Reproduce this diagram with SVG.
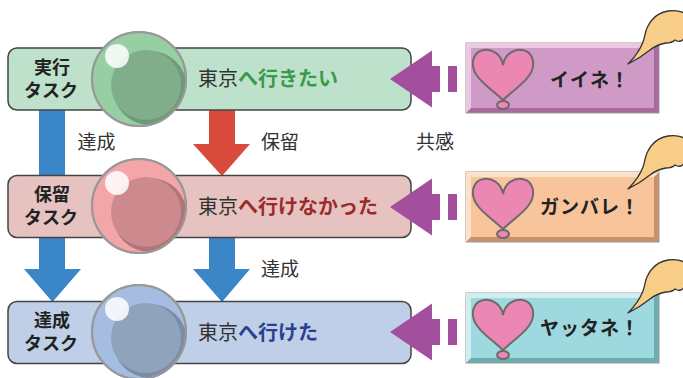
<svg xmlns="http://www.w3.org/2000/svg" width="683" height="378" viewBox="0 0 683 378">
  <style>
    text { font-family: "Noto Sans CJK JP", "Noto Sans", sans-serif; }
    .row { stroke: #444; stroke-width: 1.5; }
    .title { font-size: 18px; font-weight: bold; fill: #222; text-anchor: middle; }
    .main { font-size: 20px; fill: #333; }
    .label { font-size: 19px; fill: #333; text-anchor: middle; }
    .cheer { font-size: 19px; font-weight: bold; fill: #222; letter-spacing: 1px; }
    .orb { stroke: #999; stroke-width: 2; }
    .shine { fill: #fff; opacity: 0.85; }
    .heart { fill: #eb87b2; stroke: #6b6b6b; stroke-width: 2; }
    .purple { fill: #a24f9e; }
    .blue { fill: #3a86c6; }
    .red { fill: #d84a3c; }
  </style>
  <defs>
    <clipPath id="orbClip1"><circle cx="139" cy="79" r="47"/></clipPath>
    <clipPath id="orbClip2"><circle cx="139" cy="206" r="47"/></clipPath>
    <clipPath id="orbClip3"><circle cx="139" cy="332" r="47"/></clipPath>
    <!-- heart with its small drop, drawn around (0,0) = notch -->
    <g id="heartShape">
      <ellipse cx="0" cy="40" rx="6" ry="4" class="heart" stroke-width="1.2"/>
      <path class="heart" d="M0,0 C-2,-12 -12,-16 -19,-15 C-27,-14 -31,-7 -30,1 C-29,13 -13,23 0,35 C13,23 29,13 30,1 C31,-7 27,-14 19,-15 C12,-16 2,-12 0,0 Z"/>
    </g>
  </defs>

  <!-- vertical flow arrows between task rows -->
  <g id="flow-connectors">
    <path class="blue" d="M39,105 H65 V269 H81 L52.5,302 L24,269 H39 Z"/>
    <path class="red" d="M209,105 H235 V144 H250 L222,176 L193,144 H209 Z"/>
    <path class="blue" d="M209,232 H235 V269 H250 L222,302 L193,269 H209 Z"/>
  </g>

  <g id="labels">
    <text class="label" x="96.5" y="149">達成</text>
    <text class="label" x="280" y="149">保留</text>
    <text class="label" x="435" y="149">共感</text>
    <text class="label" x="280" y="276">達成</text>
  </g>

  <!-- task rows -->
  <g id="row-doing">
    <rect class="row" x="8" y="48" width="403" height="62" rx="9" fill="#bde1cb"/>
    <text class="title" x="52" y="74">実行</text>
    <text class="title" x="51" y="97">タスク</text>
    <circle class="orb" cx="139" cy="79" r="47" fill="#96cfa2"/>
    <g clip-path="url(#orbClip1)">
      <circle cx="150" cy="88" r="37" fill="#6f9a79"/>
      <circle cx="146" cy="85" r="35" fill="#80ad8a"/>
    </g>
    <circle class="orb" cx="139" cy="79" r="47" fill="none"/>
    <circle class="shine" cx="117" cy="56" r="12"/>
    <text class="main" x="198" y="86">東京<tspan font-weight="bold" fill="#3a9a4a">へ行きたい</tspan></text>
  </g>

  <g id="row-pending">
    <rect class="row" x="8" y="175.5" width="403" height="62" rx="9" fill="#e6c3c1"/>
    <text class="title" x="52" y="201">保留</text>
    <text class="title" x="51" y="224">タスク</text>
    <circle class="orb" cx="139" cy="206" r="47" fill="#f3a5a8"/>
    <g clip-path="url(#orbClip2)">
      <circle cx="150" cy="215" r="37" fill="#b27478"/>
      <circle cx="146" cy="212" r="35" fill="#cd8a8e"/>
    </g>
    <circle class="orb" cx="139" cy="206" r="47" fill="none"/>
    <circle class="shine" cx="117" cy="183" r="12"/>
    <text class="main" x="198" y="214">東京<tspan font-weight="bold" fill="#9b2b2b">へ行けなかった</tspan></text>
  </g>

  <g id="row-done">
    <rect class="row" x="8" y="301.5" width="403" height="62" rx="9" fill="#c0cfe8"/>
    <text class="title" x="52" y="327">達成</text>
    <text class="title" x="51" y="350">タスク</text>
    <circle class="orb" cx="139" cy="332" r="47" fill="#a5bde3"/>
    <g clip-path="url(#orbClip3)">
      <circle cx="150" cy="341" r="37" fill="#7b8ca4"/>
      <circle cx="146" cy="338" r="35" fill="#8fa3bd"/>
    </g>
    <circle class="orb" cx="139" cy="332" r="47" fill="none"/>
    <circle class="shine" cx="117" cy="309" r="12"/>
    <text class="main" x="198" y="340">東京<tspan font-weight="bold" fill="#2b3f8f">へ行けた</tspan></text>
  </g>

  <!-- dashed purple arrows from the reaction cards -->
  <g id="cheer-connectors">
    <path class="purple" d="M390,79 L432,50.5 V66 H440 V92 H432 V107.5 Z"/>
    <rect class="purple" x="448" y="66" width="9" height="26"/>
    <path class="purple" d="M390,207 L432,178.5 V194 H440 V220 H432 V235.5 Z"/>
    <rect class="purple" x="448" y="194" width="9" height="26"/>
    <path class="purple" d="M390,332 L432,303.5 V319 H440 V345 H432 V360.5 Z"/>
    <rect class="purple" x="448" y="319" width="9" height="26"/>
  </g>

  <!-- reaction cards -->
  <g id="card-iine">
    <rect x="466" y="43" width="193" height="70" fill="#a8699f" stroke="#9a9a9a" stroke-width="1"/>
    <polygon points="466,43 659,43 654,48 471,48 471,108 466,113" fill="#ecc8e4"/>
    <rect x="471" y="48" width="183" height="60" fill="#cf9ac6"/>
    <use href="#heartShape" transform="translate(503,65)"/>
    <text class="cheer" x="550" y="87">イイネ！</text>
    <path fill="#f7cd88" stroke="#333" stroke-width="1.3" stroke-linejoin="round" d="M628,64 C634,58 640,50 643,42 C645,37 645,32 647,28 C649,24 650,22 652,20 C656,15 662,12 668,11 C674,10 680,11 684,13 L684,38 C682,42 678,42 675,40 C673,42 670,43 666,43 C660,44 655,46 650,50 C645,54 638,59 628,64 Z"/>
  </g>

  <g id="card-ganbare">
    <rect x="466" y="172" width="193" height="70" fill="#c9906a" stroke="#9a9a9a" stroke-width="1"/>
    <polygon points="466,172 659,172 654,177 471,177 471,237 466,242" fill="#fde0c8"/>
    <rect x="471" y="177" width="183" height="60" fill="#f8c49b"/>
    <use href="#heartShape" transform="translate(503,194)"/>
    <text class="cheer" x="540" y="214">ガンバレ！</text>
    <path fill="#f7cd88" stroke="#333" stroke-width="1.3" stroke-linejoin="round" transform="translate(0,125)" d="M628,64 C634,58 640,50 643,42 C645,37 645,32 647,28 C649,24 650,22 652,20 C656,15 662,12 668,11 C674,10 680,11 684,13 L684,38 C682,42 678,42 675,40 C673,42 670,43 666,43 C660,44 655,46 650,50 C645,54 638,59 628,64 Z"/>
  </g>

  <g id="card-yattane">
    <rect x="466" y="293" width="193" height="70" fill="#6aaeb3" stroke="#9a9a9a" stroke-width="1"/>
    <polygon points="466,293 659,293 654,298 471,298 471,358 466,363" fill="#d0eef0"/>
    <rect x="471" y="298" width="183" height="60" fill="#9ed9df"/>
    <use href="#heartShape" transform="translate(503,315)"/>
    <text class="cheer" x="540" y="335">ヤッタネ！</text>
    <path fill="#f7cd88" stroke="#333" stroke-width="1.3" stroke-linejoin="round" transform="translate(0,249)" d="M628,64 C634,58 640,50 643,42 C645,37 645,32 647,28 C649,24 650,22 652,20 C656,15 662,12 668,11 C674,10 680,11 684,13 L684,38 C682,42 678,42 675,40 C673,42 670,43 666,43 C660,44 655,46 650,50 C645,54 638,59 628,64 Z"/>
  </g>
</svg>
